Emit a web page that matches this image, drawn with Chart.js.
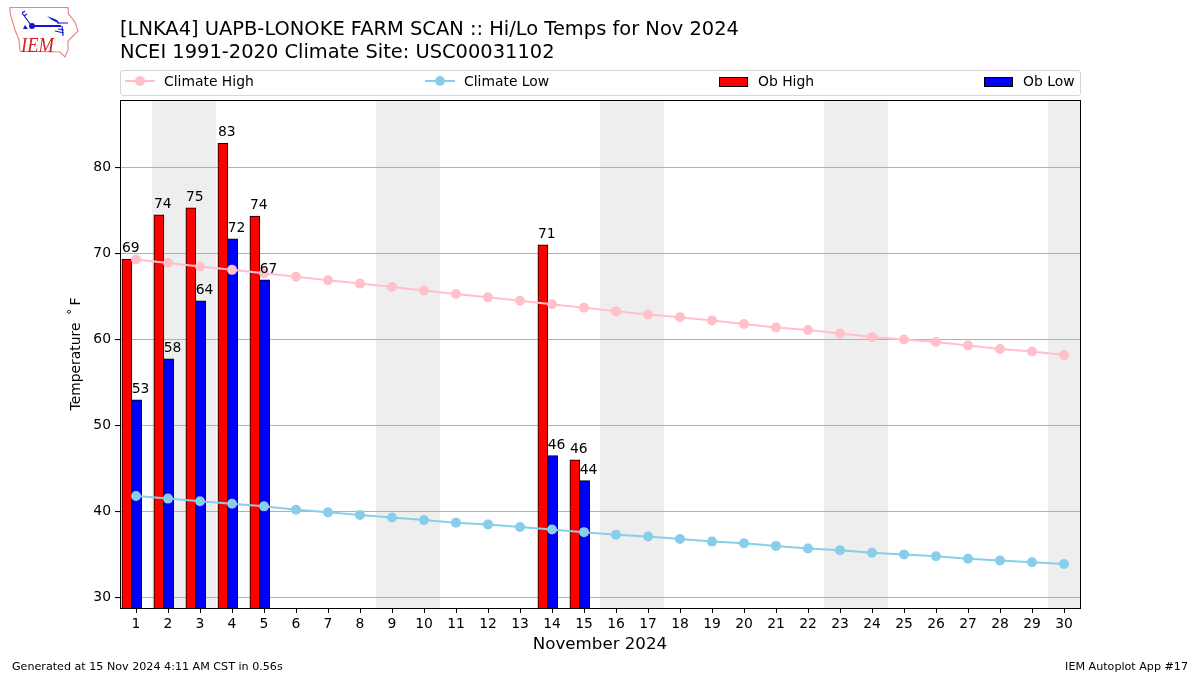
<!DOCTYPE html>
<html>
<head>
<meta charset="utf-8">
<title>LNKA4 Hi/Lo Temps</title>
<script src="https://cdn.jsdelivr.net/npm/chart.js@4/dist/chart.umd.min.js"></script>
<style>
  html, body { margin: 0; padding: 0; background: #fff; }
  body { width: 1200px; height: 675px; position: relative; overflow: hidden; font-family: "DejaVu Sans", sans-serif; color: #000; }
  canvas { position: absolute; left: 0; top: 0; }
  .txt { position: absolute; white-space: nowrap; }
  #title { left: 120px; top: 18px; font-size: 19.44px; line-height: 22.6px; }
  #legend { position: absolute; left: 120px; top: 70px; width: 959px; height: 24px; border: 1px solid #d6d6d6; border-radius: 3px; }
  .leg { position: absolute; top: 71px; font-size: 13.9px; line-height: 20px; white-space: nowrap; }
  .lline { position: absolute; top: 80px; width: 30px; height: 2px; }
  .ldot { position: absolute; top: 76px; width: 10px; height: 10px; border-radius: 50%; }
  .lpatch { position: absolute; top: 77px; width: 27px; height: 8px; border: 1px solid #000; }
  #foot1 { left: 12px; top: 660px; font-size: 11.13px; }
  #foot2 { right: 12px; top: 660px; font-size: 11.13px; }
</style>
</head>
<body>
<canvas id="chart" width="1200" height="675"></canvas>

<svg style="position:absolute;left:0;top:0" width="90" height="65" viewBox="0 0 90 65">
  <path d="M10 7.5 L68 7.5 L68.5 14 L75 22 L78 31 L73 36 L68 41 L68 50 L65 57 L60 52 L20 51 L19 40 L15 30 L10 13 Z" fill="#fff" stroke="#e58a8a" stroke-width="1.2"/>
  <path d="M32 26 L61 26" stroke="#1414d2" stroke-width="2" fill="none"/>
  <circle cx="32" cy="26" r="3" fill="#1414d2"/>
  <path d="M47 16 L57 20 L60 24 L52 20 Z" fill="#1414d2"/>
  <path d="M57 23 L68 23" stroke="#1414d2" stroke-width="1" fill="none"/>
  <path d="M31 25 L22 13 M22 13 L25 11 M24 16 L27 14" stroke="#1414d2" stroke-width="1.2" fill="none"/>
  <path d="M62 26 L63 36 M55 31 L64 33 M58 29 L64 30" stroke="#1414d2" stroke-width="1.2" fill="none"/>
  <path d="M23 29 L25 25 L28 29 Z" fill="#1414d2"/>
  <text x="21" y="52" font-family="Liberation Serif" font-style="italic" font-size="20" textLength="33" lengthAdjust="spacingAndGlyphs" fill="#d42020">IEM</text>
</svg>

<div class="txt" id="title">[LNKA4] UAPB-LONOKE FARM SCAN :: Hi/Lo Temps for Nov 2024<br>NCEI 1991-2020 Climate Site: USC00031102</div>

<div id="legend"></div>
<div class="lline" style="left:125px;background:#ffc0cb"></div>
<div class="ldot" style="left:135px;background:#ffc0cb"></div>
<div class="leg" style="left:164px">Climate High</div>
<div class="lline" style="left:425px;background:#87ceeb"></div>
<div class="ldot" style="left:435px;background:#87ceeb"></div>
<div class="leg" style="left:464px">Climate Low</div>
<div class="lpatch" style="left:719px;background:#f00"></div>
<div class="leg" style="left:758px">Ob High</div>
<div class="lpatch" style="left:984px;background:#00f"></div>
<div class="leg" style="left:1023px">Ob Low</div>

<div class="txt" id="foot1">Generated at 15 Nov 2024 4:11 AM CST in 0.56s</div>
<div class="txt" id="foot2">IEM Autoplot App #17</div>

<script>
const days = [1,2,3,4,5,6,7,8,9,10,11,12,13,14,15,16,17,18,19,20,21,22,23,24,25,26,27,28,29,30]
const climateHigh = [69.3,68.9,68.5,68.1,67.7,67.3,66.9,66.5,66.1,65.7,65.3,64.9,64.5,64.1,63.7,63.3,62.9,62.6,62.2,61.8,61.4,61.1,60.7,60.3,60.0,59.7,59.3,58.9,58.6,58.2]
const climateLow = [41.8,41.5,41.2,40.9,40.6,40.2,39.9,39.6,39.3,39.0,38.7,38.5,38.2,37.9,37.6,37.3,37.1,36.8,36.5,36.3,36.0,35.7,35.5,35.2,35.0,34.8,34.5,34.3,34.1,33.9]
const obDays = [1,2,3,4,5,14,15]
const obHigh = [69.35,74.49,75.3,82.8,74.35,71.0,46.0]
const obLow = [53.0,57.75,64.49,71.7,66.95,46.49,43.6]
const yTicks = [30,40,50,60,70,80]
const weekends = [[1.5,3.5],[8.5,10.5],[15.5,17.5],[22.5,24.5],[29.5,30.5]]

const font = 'DejaVu Sans'

function pairs(xs, ys, shift) {
  return xs.map((x, i) => ({ x: x + shift, y: ys[i] }))
}

// weekend bands sit under the grid, so this runs before the scales draw
const weekendBands = {
  id: 'weekendBands',
  beforeDraw(chart) {
    const { ctx, chartArea, scales } = chart
    ctx.save()
    ctx.fillStyle = '#eeeeee'
    weekends.forEach(w => {
      const a = scales.x.getPixelForValue(w[0])
      const b = scales.x.getPixelForValue(w[1])
      ctx.fillRect(a, chartArea.top, b - a, chartArea.bottom - chartArea.top)
    })
    ctx.restore()
  }
}

const barLabels = {
  id: 'barLabels',
  afterDatasetsDraw(chart) {
    const { ctx } = chart
    ctx.save()
    ctx.font = '13.9px "' + font + '"'
    ctx.fillStyle = '#000'
    ctx.textBaseline = 'alphabetic'
    ;[2, 3].forEach(idx => {
      chart.getDatasetMeta(idx).data.forEach((bar, i) => {
        const v = chart.data.datasets[idx].data[i].y
        ctx.fillText(Math.round(v), bar.x - bar.width / 2, bar.y - 7)
      })
    })
    ctx.restore()
  }
}

const frame = {
  id: 'frame',
  afterDraw(chart) {
    const { ctx, chartArea: a } = chart
    ctx.save()
    ctx.strokeStyle = '#000'
    ctx.lineWidth = 1
    ctx.strokeRect(a.left + 0.5, a.top + 0.5, a.right - a.left, a.bottom - a.top)
    ctx.restore()
  }
}

new Chart(document.getElementById('chart').getContext('2d'), {
  type: 'bar',
  data: {
    datasets: [
      { type: 'line', label: 'Climate High', data: pairs(days, climateHigh, 0), borderColor: '#ffc0cb', backgroundColor: '#ffc0cb', borderWidth: 2, pointRadius: 5, pointBorderWidth: 0, order: 1 },
      { type: 'line', label: 'Climate Low', data: pairs(days, climateLow, 0), borderColor: '#87ceeb', backgroundColor: '#87ceeb', borderWidth: 2, pointRadius: 5, pointBorderWidth: 0, order: 1 },
      { label: 'Ob High', data: pairs(obDays, obHigh, -0.285), backgroundColor: '#ff0000', borderColor: '#000', borderWidth: 1, barThickness: 10, grouped: false, order: 3 },
      { label: 'Ob Low', data: pairs(obDays, obLow, 0.02), backgroundColor: '#0000ff', borderColor: '#000', borderWidth: 1, barThickness: 10, grouped: false, order: 2 }
    ]
  },
  options: {
    responsive: false,
    animation: false,
    devicePixelRatio: 1,
    layout: { padding: { left: 68, right: 120, top: 100, bottom: 20 } },
    plugins: { legend: { display: false }, title: { display: false }, tooltip: { enabled: false } },
    scales: {
      x: {
        type: 'linear',
        min: 0.5,
        max: 30.5,
        offset: false,
        afterBuildTicks: s => { s.ticks = days.map(d => ({ value: d })) },
        afterFit: s => { s.height = 47 },
        border: { display: false },
        grid: { offset: false, drawOnChartArea: false, drawTicks: true, tickColor: '#000', tickLength: 5 },
        ticks: { autoSkip: false, maxRotation: 0, color: '#000', padding: 3, font: { family: font, size: 13.9 } },
        title: { display: true, text: 'November 2024', color: '#000', padding: 0, font: { family: font, size: 16.67 } }
      },
      y: {
        min: 28.78,
        max: 87.85,
        afterBuildTicks: s => { s.ticks = yTicks.map(v => ({ value: v })) },
        afterFit: s => { s.width = 52 },
        border: { display: false },
        grid: { color: '#b0b0b0', lineWidth: 1.1, tickColor: '#000', tickLength: 5 },
        ticks: { color: '#000', padding: 4, font: { family: font, size: 13.9 } },
        title: { display: true, text: 'Temperature\u00A0\u2009˚\u2009F', color: '#000', padding: 0, font: { family: font, size: 13.9 } }
      }
    }
  },
  plugins: [weekendBands, barLabels, frame]
})
</script>
</body>
</html>
